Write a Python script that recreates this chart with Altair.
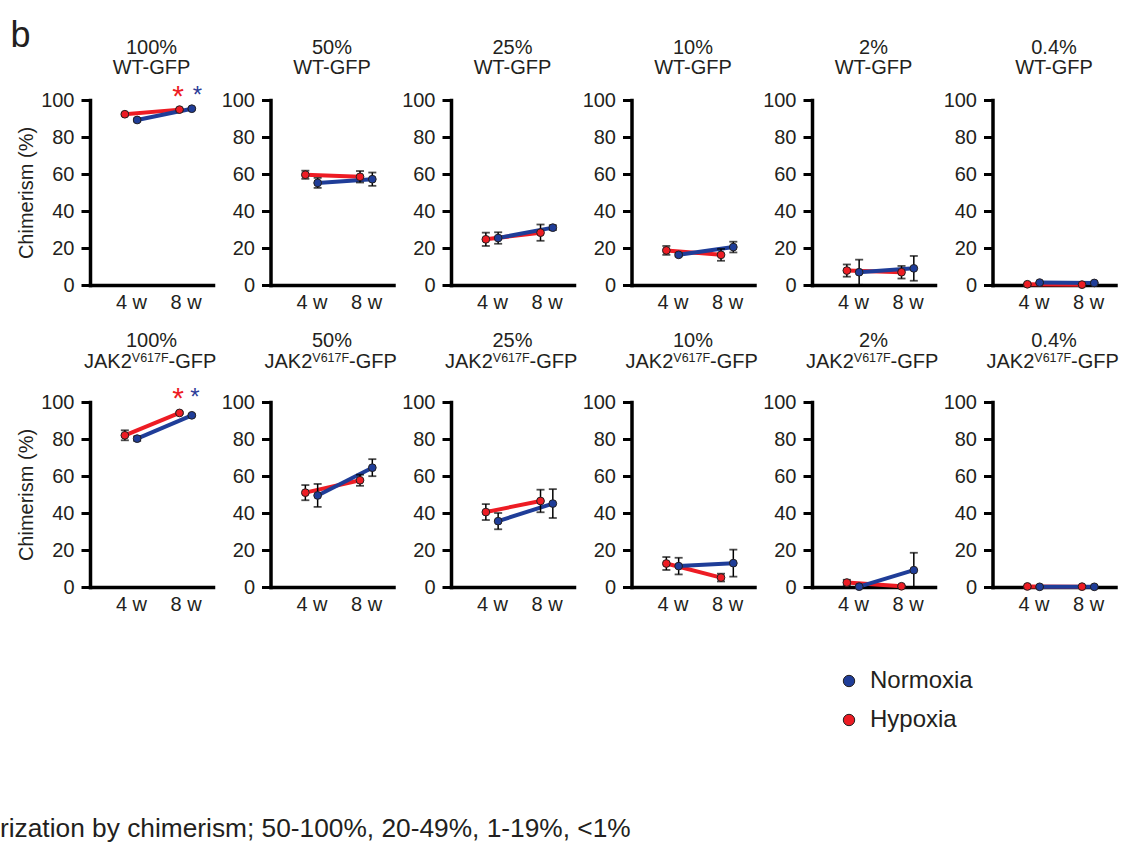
import altair as alt
import pandas as pd

# ---------------- data ----------------
concentrations = ["100%", "50%", "25%", "10%", "2%", "0.4%"]
weeks = [4, 8]
conditions = ["Normoxia", "Hypoxia"]
groups = ["WT-GFP", "JAK2"]

# [panel][week index]
wt_hypoxia_mean = [[92.3, 94.8], [59.6, 58.5], [24.7, 28.3], [18.7, 16.3], [7.8, 6.9], [0.4, 0.2]]
wt_hypoxia_err = [[0.6, 0.5], [2.2, 3.1], [3.6, 4.4], [2.4, 3.2], [3.3, 3.4], [0.3, 0.2]]
wt_normoxia_mean = [[89.2, 95.3], [55.2, 57.2], [25.4, 31.0], [16.3, 20.5], [6.9, 9.0], [1.3, 1.1]]
wt_normoxia_err = [[0.8, 0.5], [2.7, 3.6], [3.1, 1.3], [0.8, 2.9], [6.8, 6.7], [0.3, 0.3]]

jak_hypoxia_mean = [[82.0, 94.1], [51.0, 57.7], [40.5, 46.5], [12.7, 5.1], [2.4, 0.4], [0.3, 0.2]]
jak_hypoxia_err = [[2.7, 0.6], [4.1, 3.0], [4.3, 6.1], [3.5, 2.1], [1.5, 0.3], [0.2, 0.1]]
jak_normoxia_mean = [[80.2, 92.8], [49.5, 64.5], [35.6, 45.1], [11.3, 12.9], [0.2, 9.1], [0.1, 0.1]]
jak_normoxia_err = [[1.2, 0.6], [6.2, 4.6], [4.4, 7.8], [4.5, 7.3], [0.2, 9.4], [0.1, 0.1]]

footer_text = "rization by chimerism; 50-100%, 20-49%, 1-19%, <1%"

# ---------------- styles ----------------
RED = "#ED1C24"
BLUE = "#1F3D98"
INK = "#231F20"
FONT = "Liberation Sans"
W, H = 123, 185
COND_COLORS = {"Normoxia": BLUE, "Hypoxia": RED}

rows = []
series = {
    ("WT-GFP", "Hypoxia"): (wt_hypoxia_mean, wt_hypoxia_err),
    ("WT-GFP", "Normoxia"): (wt_normoxia_mean, wt_normoxia_err),
    ("JAK2", "Hypoxia"): (jak_hypoxia_mean, jak_hypoxia_err),
    ("JAK2", "Normoxia"): (jak_normoxia_mean, jak_normoxia_err),
}
for (g, c), (means, errs) in series.items():
    for pi, conc in enumerate(concentrations):
        for wi, wk in enumerate(weeks):
            m = means[pi][wi]
            e = errs[pi][wi]
            rows.append({"group": g, "conc": conc, "cond": c, "week": wk,
                         "mean": m, "lo": max(m - e, 0), "hi": m + e})
df = pd.DataFrame(rows)

color_scale = alt.Scale(domain=conditions, range=[BLUE, RED])
legend = alt.Legend(
    title=None, orient="none", legendX=747, legendY=569, symbolType="circle",
    symbolSize=130, symbolStrokeColor=INK, symbolStrokeWidth=1, labelFontSize=24,
    labelFont=FONT, labelColor=INK, labelOffset=9, rowPadding=15, padding=0,
)


def one(val):
    return alt.Chart(pd.DataFrame({"t": [val]}))


def panel(group, pi):
    first = pi == 0
    sub = df[(df.group == group) & (df.conc == concentrations[pi])]
    base = alt.Chart(sub).transform_calculate(
        xpos="datum.week + (datum.cond == 'Hypoxia' ? -0.45 : 0.45)"
    )
    xaxis = alt.Axis(values=weeks, labelExpr="datum.value + ' w'", ticks=False,
                     labelPadding=7, title=None, grid=False)
    yaxis = alt.Axis(values=[0, 20, 40, 60, 80, 100], title="Chimerism (%)" if first else None,
                     grid=False, tickSize=9, labelPadding=7, titlePadding=4)
    xs = alt.Scale(domain=[1, 10], nice=False, zero=False)
    ys = alt.Scale(domain=[0, 100], nice=False)
    x = alt.X("xpos:Q", scale=xs, axis=xaxis)

    def Y(f):
        return alt.Y(f, scale=ys, axis=yaxis)

    layers = []
    for cond in ["Hypoxia", "Normoxia"]:
        layers.append(
            base.transform_filter(f"datum.cond == '{cond}'").mark_line(strokeWidth=4).encode(
                x=x, y=Y("mean:Q"), color=alt.value(COND_COLORS[cond])
            )
        )
    layers.append(base.mark_rule(color="black", strokeWidth=1.5).encode(x=x, y=Y("lo:Q"), y2="hi:Q"))
    layers.append(base.mark_tick(orient="horizontal", size=8, thickness=1.8, color="black").encode(x=x, y=Y("lo:Q")))
    layers.append(base.mark_tick(orient="horizontal", size=8, thickness=1.8, color="black").encode(x=x, y=Y("hi:Q")))
    layers.append(
        base.mark_circle(size=60, opacity=1, stroke=INK, strokeWidth=1).encode(
            x=x, y=Y("mean:Q"), color=alt.Color("cond:N", scale=color_scale, legend=legend),
            order=alt.Order("cond:N", sort="ascending"),
        )
    )

    tstyle = dict(font=FONT, color=INK, baseline="alphabetic")
    if group == "WT-GFP":
        layers.append(one(concentrations[pi]).mark_text(fontSize=20, align="center", **tstyle).encode(
            x=alt.value(61.5), y=alt.value(-46), text="t:N"))
        layers.append(one("WT-GFP").mark_text(fontSize=20, align="center", **tstyle).encode(
            x=alt.value(61.5), y=alt.value(-26), text="t:N"))
    else:
        layers.append(one(concentrations[pi]).mark_text(fontSize=20, align="center", **tstyle).encode(
            x=alt.value(61.5), y=alt.value(-55), text="t:N"))
        x0 = 60 - 66
        layers.append(one("JAK2").mark_text(fontSize=20, align="left", **tstyle).encode(
            x=alt.value(x0), y=alt.value(-34), text="t:N"))
        layers.append(one("V617F").mark_text(fontSize=12.5, align="left", **tstyle).encode(
            x=alt.value(x0 + 47.8), y=alt.value(-40), text="t:N"))
        layers.append(one("-GFP").mark_text(fontSize=20, align="left", **tstyle).encode(
            x=alt.value(x0 + 47.8 + 36.8), y=alt.value(-34), text="t:N"))

    if first:
        layers.append(one("*").mark_text(fontSize=30, align="center", font=FONT, color=RED,
                                         baseline="alphabetic").encode(
            x=alt.value(88), y=alt.value(6), text="t:N"))
        layers.append(one("*").mark_text(fontSize=24, align="center", font=FONT, color="#2E3D98",
                                         baseline="alphabetic").encode(
            x=alt.value(107.5 if group == "WT-GFP" else 105), y=alt.value(2.5), text="t:N"))
        if group == "WT-GFP":
            layers.append(one("b").mark_text(fontSize=36, align="left", **tstyle).encode(
                x=alt.value(-79.5), y=alt.value(-53.5), text="t:N"))
            layers.append(one("a").mark_rule(strokeOpacity=0, strokeWidth=0.01).encode(
                x=alt.value(-90), x2=alt.value(-89.5), y=alt.value(-100), y2=alt.value(-99.5)))
        else:
            layers.append(one(footer_text).mark_text(fontSize=26.3, align="left", **tstyle).encode(
                x=alt.value(-90), y=alt.value(435), text="t:N"))

    return alt.layer(*layers).properties(width=W, height=H)


panels = [panel(g, i) for g in groups for i in range(len(concentrations))]

chart = alt.concat(*panels, columns=6).properties(
    spacing={"row": 117, "column": 57.5}, bounds="flush", padding=0, background="white"
).configure(font=FONT).configure_view(stroke=None, strokeWidth=0).configure_axis(
    domainColor="black", domainWidth=3.5, domainCap="square", tickColor="black", tickWidth=3,
    labelFont=FONT, labelFontSize=20, labelColor=INK, titleFont=FONT, titleFontSize=20,
    titleFontWeight="normal", titleColor=INK,
)

chart.save("out.html", embed_options={"renderer": "svg", "actions": False})
